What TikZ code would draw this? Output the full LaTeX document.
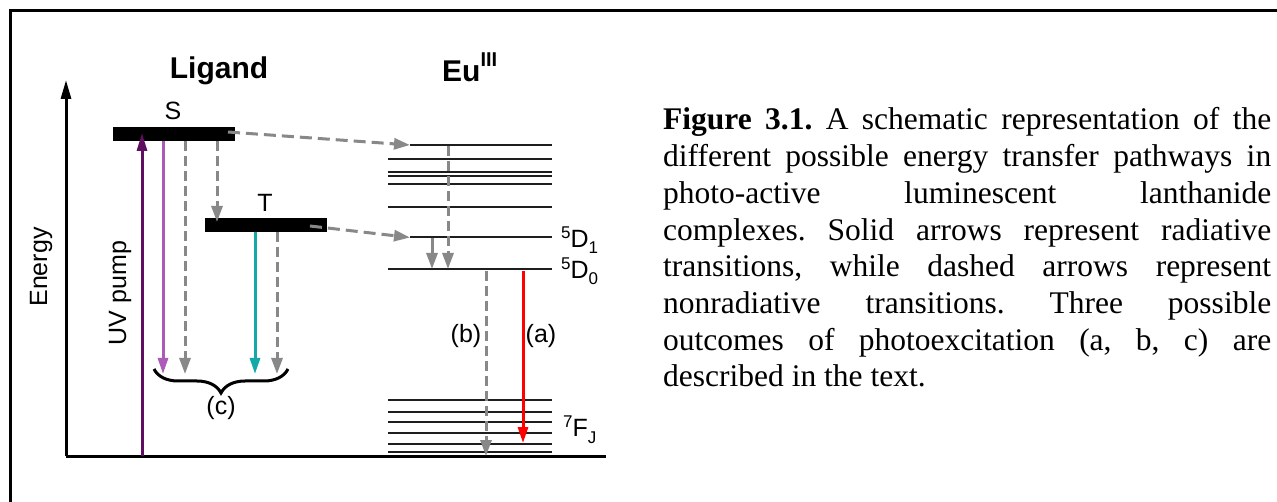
\documentclass[tikz,border=0pt]{standalone}
\usepackage{fontspec}
\setmainfont{Liberation Serif}
\newfontfamily\arialf{Liberation Sans}
\usetikzlibrary{arrows.meta,decorations.pathreplacing}
\definecolor{uvc}{RGB}{96,14,96}
\definecolor{lpc}{RGB}{172,92,184}
\definecolor{tlc}{RGB}{20,168,168}
\definecolor{grc}{RGB}{136,136,136}
\definecolor{lvc}{RGB}{30,30,30}
\newcommand{\smallf}{\fontsize{17}{17}\selectfont}
\begin{document}
\begin{tikzpicture}[x=1pt,y=-1pt,
  lab/.style={font=\arialf\fontsize{25}{30}\selectfont, inner sep=0pt},
  ttl/.style={font=\arialf\bfseries\fontsize{30}{36}\selectfont, inner sep=0pt},
  lvl/.style={line width=2pt, draw=lvc},
  bar/.style={fill=black, draw=none, minimum width=122pt, minimum height=14.5pt, inner sep=0pt},
  nrad/.style={draw=grc, line width=3pt, dash pattern=on 10pt off 5pt, -{Triangle[length=16pt,width=11pt]}},
  rad/.style={line width=3pt, -{Triangle[length=16pt,width=10pt]}},
  axisl/.style={line width=3pt, draw=black}
]
\useasboundingbox (0,0) rectangle (1277,502);
\begin{scope}
\clip (0,0) rectangle (1277,502);
\draw[line width=3pt] (10,520) -- (10,11) -- (1290,11);
\end{scope}

% axes
\coordinate (org) at (66,456);
\coordinate (ytop) at (66,80);
\coordinate (xend) at (606,456);
\draw[axisl, -{Triangle[length=19pt,width=10pt]}] (org) -- (ytop);
\draw[axisl] (org) -- (xend);
\node[lab, rotate=90] (energy) at (41,267) {Energy};

% titles
\node[ttl, anchor=base] (ligand) at (219,79) {Ligand};
\node[ttl, anchor=base west] (eu) at (442,82) {Eu\raisebox{15pt}{\fontsize{20}{20}\selectfont III}};

% ligand bars
\node[bar] (S) at (174,134) {};
\node[bar] (T) at (266,225) {};
\node[lab, anchor=base] (Slab) at (173,120) {S};
\node[lab, anchor=base] (Tlab) at (265,212) {T};

% Eu levels
\foreach \n/\yy/\xs in {u1/145/410, u2/159.5/388, u3/172/388, u4/176/388, u5/184/388, u6/207/388, d1/237.5/410, d0/269.5/388, f1/400/388, f2/411.5/388, f3/422/388, f4/433/388, f5/444/388, f6/452/388}{
  \coordinate (\n w) at (\xs,\yy);
  \coordinate (\n e) at (552,\yy);
  \draw[lvl] (\n w) -- (\n e);
}

% level labels
\node[lab, anchor=base west] (D1lab) at (561,248) {\raisebox{9pt}{\smallf 5}D\raisebox{-6pt}{\smallf 1}};
\node[lab, anchor=base west] (D0lab) at (561,279) {\raisebox{9pt}{\smallf 5}D\raisebox{-6pt}{\smallf 0}};
\node[lab, anchor=base west] (FJlab) at (563,436) {\raisebox{9pt}{\smallf 7}F\raisebox{-7pt}{\smallf J}};

% coordinates for arrows
\coordinate (uvs) at (142,456);
\coordinate (uvt) at (142,133);
\coordinate (p1s) at (163,141);
\coordinate (p1t) at (163,374);
\coordinate (g1s) at (185,141);
\coordinate (g1t) at (185,374);
\coordinate (g2s) at (217,141);
\coordinate (g2t) at (217,222);
\coordinate (t1s) at (255,232);
\coordinate (t1t) at (255,374);
\coordinate (g3s) at (277,232);
\coordinate (g3t) at (277,374);
\coordinate (se) at (228,132);
\coordinate (te) at (310,226);
\coordinate (e1) at (448,146);
\coordinate (e1t) at (448,269);
\coordinate (e2) at (432,238);
\coordinate (e2t) at (432,269);
\coordinate (bs) at (486,271);
\coordinate (bt) at (486,456);
\coordinate (as) at (523,271);
\coordinate (at2) at (523,443);

% ligand arrows
\draw[rad, uvc, -{Triangle[length=18pt,width=10pt]}] (uvs) -- (uvt);
\node[lab, rotate=90] (uvlab) at (120,293) {UV pump};
\draw[rad, lpc] (p1s) -- (p1t);
\draw[nrad] (g1s) -- (g1t);
\draw[nrad] (g2s) -- (g2t);
\draw[rad, tlc] (t1s) -- (t1t);
\draw[nrad] (g3s) -- (g3t);

% transfer to Eu
\draw[nrad, dash pattern=on 12pt off 6pt] (se) -- (u1w);
\draw[nrad, dash pattern=on 12pt off 6pt] (te) -- (d1w);

% Eu arrows
\draw[nrad] (e1) -- (e1t);
\draw[draw=grc, line width=3pt, -{Triangle[length=16pt,width=11pt]}] (e2) -- (e2t);
\draw[nrad] (bs) -- (bt);
\draw[rad, red] (as) -- (at2);
\node[lab] (blab) at (466,336) {(b)};
\node[lab] (alab) at (541,336) {(a)};

% brace
\coordinate (brL) at (154,369);
\coordinate (brR) at (288,369);
\draw[line width=3pt, decorate, decoration={brace, amplitude=24pt}] (brR) -- (brL);
\node[lab] (clab) at (221,408) {(c)};

% caption
\node[anchor=base west, inner sep=0pt] (cap) at (663,130) {\parbox[t]{608pt}{\fontsize{31.5}{36.7}\selectfont\frenchspacing\setlength{\parindent}{0pt}%
\textbf{Figure 3.1.} A schematic representation of the\linebreak
different possible energy transfer pathways in\linebreak
photo-active luminescent lanthanide\linebreak
complexes. Solid arrows represent radiative\linebreak
transitions, while dashed arrows represent\linebreak
nonradiative transitions. Three possible\linebreak
outcomes of photoexcitation (a, b, c) are\linebreak
described in the text.}};
\end{tikzpicture}
\end{document}
